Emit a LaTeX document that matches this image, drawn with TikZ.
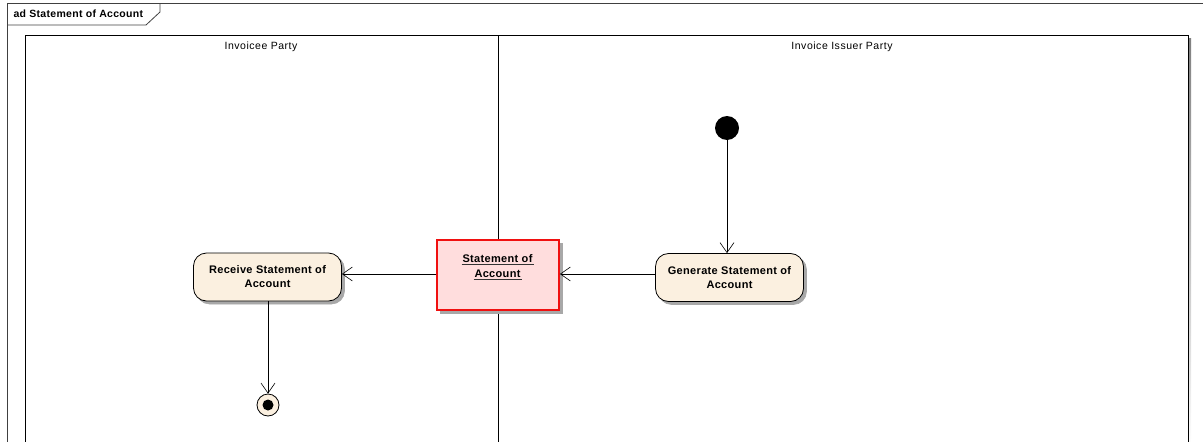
\documentclass[tikz,border=0pt]{standalone}
\usepackage{fontspec}
\setmainfont{Liberation Sans}
\newfontfamily\nodefont{Liberation Sans}[LetterSpace=3]
\newfontfamily\lanefont{Liberation Sans}[LetterSpace=5]
\usetikzlibrary{arrows.meta}
\definecolor{actfill}{HTML}{FBF0E0}
\definecolor{objfill}{HTML}{FFDDDD}
\definecolor{objline}{HTML}{F01010}
\definecolor{shade}{HTML}{A8A8A8}
\tikzset{
  castshadow/.style={preaction={fill=shade, draw=shade, line width=0.6pt,
    transform canvas={xshift=3pt, yshift=-3pt}}},
  action/.style={draw=black, line width=0.8pt, fill=actfill, rounded corners=13pt,
    minimum width=148pt, minimum height=48pt, align=center,
    font=\fontsize{11}{14}\nodefont\bfseries, castshadow},
  objnode/.style={draw=objline, line width=1.8pt, fill=objfill,
    minimum width=122pt, minimum height=70pt, castshadow},
  objtext/.style={align=center, font=\fontsize{11}{14}\nodefont\bfseries},
  flow/.style={draw=black, line width=0.6pt,
    -{Straight Barb[length=10pt, width=14pt, line width=0.6pt]}},
  lanelabel/.style={font=\fontsize{10.5}{12}\lanefont, anchor=center},
}
% underline drawn a little wider and heavier than the text
\newcommand{\objul}[1]{\tikz[baseline=(t.base)]{\node[inner sep=0pt, outer sep=0pt] (t) {#1};
  \draw[line width=0.9pt, draw=black!80] ([xshift=-1pt, yshift=-2.2pt]t.base west) -- ([xshift=2pt, yshift=-2.2pt]t.base east);}}
\begin{document}
\begin{tikzpicture}[x=1pt, y=-1pt]
\useasboundingbox (0,0) rectangle (1203,442);
\begin{scope}
\clip (0,0) rectangle (1203,442);
% outer diagram frame with name tab
\draw[line width=0.8pt, draw=black!75] (7,3) -- (1210,3);
\draw[line width=0.8pt, draw=black!75] (7,3) -- (7,450);
\draw[line width=0.8pt, draw=black!75] (7,25) -- (146,25) -- (160,12) -- (160,3);
\node[anchor=west, font=\fontsize{10.5}{12}\nodefont\bfseries] (title) at (10,14) {ad Statement of Account};
% activity partition frame with shadow
\fill[shade] (1188,38) rectangle (1191,450);
\draw[line width=0.9pt] (25,450) -- (25,35) -- (1188,35) -- (1188,450);
\draw[line width=0.9pt] (498,35) -- (498,450);
\node[lanelabel] (laneA) at (261,47) {Invoicee Party};
\node[lanelabel] (laneB) at (842,47) {Invoice Issuer Party};
\end{scope}
% initial node
\node[circle, fill=black, minimum size=24pt, inner sep=0pt] (init) at (727,128) {};
% actions
\node[action] (gen) at (729.5,277.5) {Generate Statement of\\Account};
\node[action] (recv) at (267.5,277) {Receive Statement of\\Account};
% object node
\node[objnode] (obj) at (498,275) {};
\node[objtext] (objlabel) at (498,267) {\objul{Statement of}\\[1pt]\objul{Account}};
% final node
\node[circle, draw=black, line width=0.8pt, fill=actfill, minimum size=22pt, inner sep=0pt] (final) at (268,405) {};
\fill[black] (final.center) circle (5.5pt);
% flows
\draw[flow] (init) -- (gen.north -| init);
\draw[flow] (gen.west |- 0,274) -- (obj.east |- 0,274);
\draw[flow] (obj.west |- 0,274) -- (recv.east |- 0,274);
\draw[flow] (recv.south -| final) -- (final.north);
\end{tikzpicture}
\end{document}
